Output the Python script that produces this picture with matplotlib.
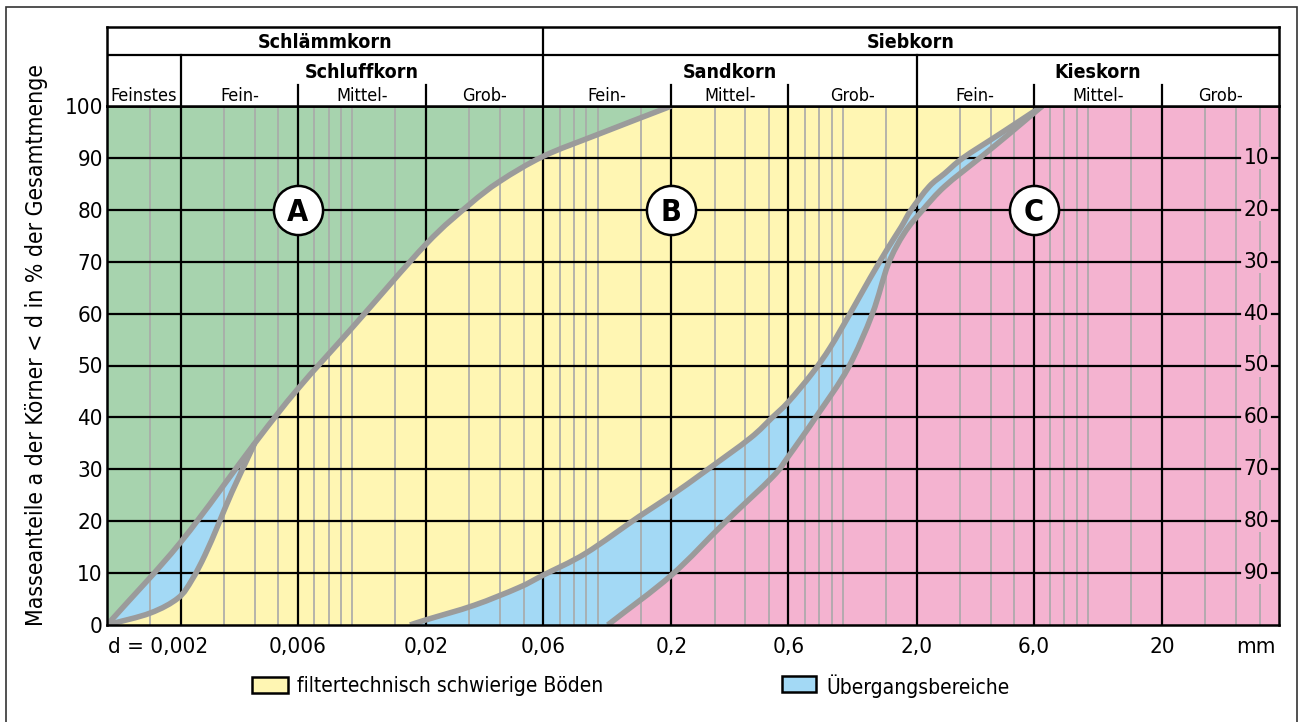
import numpy as np
import matplotlib
matplotlib.use("Agg")
import matplotlib.pyplot as plt
from matplotlib.patches import Rectangle, PathPatch
from matplotlib.path import Path
from matplotlib import font_manager as fm

# pick a narrow sans face when one is installed
_fonts = fm.fontManager.ttflist
_names = {f.name for f in _fonts}
if 'Liberation Sans Narrow' in _names:
    plt.rcParams['font.family'] = ['Liberation Sans Narrow', 'DejaVu Sans']
    FONT_NOTE = 'narrow'
elif any(f.name == 'DejaVu Sans' and 'condensed' in str(f.stretch) for f in _fonts):
    plt.rcParams['font.family'] = ['DejaVu Sans']
    plt.rcParams['font.stretch'] = 'condensed'
    FONT_NOTE = 'dejavu-condensed'
else:
    plt.rcParams['font.family'] = ['DejaVu Sans']
    FONT_NOTE = 'plain'

# ---- data -------------------------------------------------------------
# grain size d [mm] and mass fraction [%] of the boundary curves
# A: upper limit of the fine-grained soils
d_a = [0.001, 0.002, 0.004, 0.006, 0.01, 0.02, 0.03, 0.04, 0.06, 0.1, 0.2]
p_a = [0, 16, 35, 45.5, 57.3, 73.4, 81, 85.5, 90.3, 94.5, 100]

# lower edge of the transition lens near the origin (joins A at its last point)
d_a2 = [0.001, 0.0015, 0.00195, 0.00222, 0.00251, 0.00284, 0.00323, 0.004]
p_a2 = [0, 2.3, 5.2, 8.7, 13.5, 19.3, 25.6, 35]

# B: upper limit of the transition band towards the coarse soils
d_b = [0.0172, 0.02, 0.0314, 0.0477, 0.06, 0.0893, 0.1476, 0.2, 0.276, 0.419,
       0.516, 0.6, 0.75, 0.889, 1.07, 1.29, 1.53, 1.73, 1.9, 2.25, 2.6, 3.09, 4.36, 6.5]
p_b = [0, 1, 3.8, 7.2, 9.6, 13.8, 20.9, 25, 29.7, 36, 40, 43, 48.5, 53.5,
       60, 66.8, 72.7, 76.7, 80, 84.5, 87, 90, 94.6, 100]

# C: lower limit of the transition band
d_c = [0.110, 0.2, 0.326, 0.516, 0.6, 0.783, 1.05, 1.32, 1.53, 1.78, 2.12, 2.6,
       3.62, 4.73, 6.5]
p_c = [0, 9.6, 19.5, 28.5, 32.5, 40.3, 49.5, 60, 69.5, 75.5, 80, 84.5,
       90, 94.5, 100]

major_d = [0.002, 0.006, 0.02, 0.06, 0.2, 0.6, 2.0, 6.0, 20.0]
major_labels = ['0,002', '0,006', '0,02', '0,06', '0,2', '0,6', '2,0', '6,0', '20']
minor_mult = [1, 1.5, 3, 4, 5, 7, 8, 9]
pct_ticks = [0, 10, 20, 30, 40, 50, 60, 70, 80, 90, 100]
right_ticks = [10, 20, 30, 40, 50, 60, 70, 80, 90]

group_top = [('Schlämmkorn', 0.001, 0.06), ('Siebkorn', 0.06, 60.0)]
group_mid = [('Schluffkorn', 0.002, 0.06), ('Sandkorn', 0.06, 2.0), ('Kieskorn', 2.0, 60.0)]
group_sub = [('Feinstes', 0.001, 0.002),
             ('Fein-', 0.002, 0.006), ('Mittel-', 0.006, 0.02), ('Grob-', 0.02, 0.06),
             ('Fein-', 0.06, 0.2), ('Mittel-', 0.2, 0.6), ('Grob-', 0.6, 2.0),
             ('Fein-', 2.0, 6.0), ('Mittel-', 6.0, 20.0), ('Grob-', 20.0, 60.0)]
zones = [('A', 0.006, 80), ('B', 0.2, 80), ('C', 6.0, 80)]

# ---- colours ----------------------------------------------------------
GREEN = '#a7d3ae'
YELLOW = '#fff6b3'
BLUE = '#a3d9f5'
PINK = '#f4b3d0'
CURVE = '#9b9b9b'
MINOR = '#a9a9a9'

FS_NUM = 16 if FONT_NOTE != 'plain' else 14.5
FS_HEAD = 14 if FONT_NOTE != 'plain' else 12.5
FS_SUB = 13 if FONT_NOTE != 'plain' else 11.5
FS_TITLE = 16.5 if FONT_NOTE != 'plain' else 14.5
FS_LEG = 15 if FONT_NOTE != 'plain' else 13.5

W, H = 1304, 722
XMIN, XMAX = 0.001, 60.0


def bezier_parts(d, p):
    """Cubic Bezier vertices (smooth in log-d) through the given points."""
    u = np.log10(np.asarray(d, float))
    v = np.asarray(p, float)
    sv = 1 / 47.0  # one decade is drawn about as long as 47 %
    pts = np.column_stack([u, v * sv])
    n = len(pts)
    tang = np.zeros_like(pts)
    tang[0] = pts[1] - pts[0]
    tang[-1] = pts[-1] - pts[-2]
    for i in range(1, n - 1):
        tang[i] = (pts[i + 1] - pts[i - 1]) / 2
    verts = []
    for i in range(n - 1):
        c1 = pts[i] + tang[i] / 3
        c2 = pts[i + 1] - tang[i + 1] / 3
        verts += [c1, c2, pts[i + 1]]
    conv = lambda q: (10 ** q[0], q[1] / sv)
    return conv(pts[0]), [conv(q) for q in verts]


def curve_path(d, p):
    start, verts = bezier_parts(d, p)
    return Path([start] + verts, [Path.MOVETO] + [Path.CURVE4] * len(verts))


def region_above_path(parts_list):
    """Closed path: left/upper side of a chain of Bezier boundaries."""
    start = parts_list[0][0]
    v = [(XMIN, 0), start]
    c = [Path.MOVETO, Path.LINETO]
    for s, verts in parts_list:
        v += verts
        c += [Path.CURVE4] * len(verts)
    end = v[-1]
    v += [(end[0], 100), (XMIN, 100), (XMIN, 0)]
    c += [Path.LINETO, Path.LINETO, Path.CLOSEPOLY]
    return Path(v, c)


fig = plt.figure(figsize=(W / 100, H / 100), dpi=100)

L, R, T, B = 107, 1279, 106, 625
ax = fig.add_axes([L / W, 1 - B / H, (R - L) / W, (B - T) / H])
ax.set_xscale('log')
ax.set_xlim(XMIN, XMAX)
ax.set_ylim(0, 100)
ax.set_facecolor(PINK)

# filled regions, back to front
ax.add_patch(PathPatch(region_above_path([bezier_parts(d_c, p_c)]), fc=BLUE, lw=0, zorder=1))
ax.add_patch(PathPatch(region_above_path([bezier_parts(d_b, p_b)]), fc=YELLOW, lw=0, zorder=1))
i_join = d_a.index(d_a2[-1])
lens = [bezier_parts(d_a2, p_a2), bezier_parts(d_a[i_join:], p_a[i_join:])]
ax.add_patch(PathPatch(region_above_path(lens), fc=BLUE, lw=0, zorder=1))
ax.add_patch(PathPatch(region_above_path([bezier_parts(d_a, p_a)]), fc=GREEN, lw=0, zorder=1))

# vertical grid
for k in range(-3, 2):
    for m in minor_mult:
        v = m * 10.0 ** k
        if XMIN < v < XMAX:
            ax.axvline(v, color=MINOR, lw=1.2, zorder=2)
for v in major_d:
    ax.axvline(v, color='black', lw=1.6, zorder=3)

# horizontal grid with right-hand complementary scale
yt = ax.get_yaxis_transform()
for y in right_ticks:
    ax.plot([0, 0.967], [y, y], color='black', lw=1.6, transform=yt, zorder=3)
    ax.plot([0.994, 1.0], [y, y], color='black', lw=1.6, transform=yt, zorder=3)
    ax.text(0.9805, y, str(100 - y), transform=yt, ha='center', va='center',
            fontsize=FS_NUM, zorder=4,
            bbox=dict(boxstyle='square,pad=0.05', fc=PINK, ec='none'))

# boundary curves
for d, p in [(d_a, p_a), (d_a2, p_a2), (d_b, p_b), (d_c, p_c)]:
    ax.add_patch(PathPatch(curve_path(d, p), fill=False, ec=CURVE, lw=4,
                           capstyle='butt', joinstyle='round', zorder=5))

# zone markers
for lab, d, p in zones:
    ax.scatter([d], [p], s=1250, facecolor='white', edgecolor='black', linewidths=1.8, zorder=6)
    ax.text(d, p - 0.5, lab, ha='center', va='center', fontsize=22, fontweight='bold', zorder=7)

for s in ax.spines.values():
    s.set_linewidth(1.8)
    s.set_zorder(8)

ax.set_yticks(pct_ticks)
ax.set_yticklabels([str(v) for v in pct_ticks], fontsize=FS_NUM)
ax.tick_params(axis='y', length=0, pad=3)
ax.set_xticks([])
ax.set_xticks([], minor=True)

# x labels
xt = ax.get_xaxis_transform()
ax.text(XMIN * 1.01, -0.042, 'd = ' + major_labels[0], transform=xt, ha='left', va='center', fontsize=FS_NUM)
for v, lab in zip(major_d[1:], major_labels[1:]):
    ax.text(v, -0.042, lab, transform=xt, ha='center', va='center', fontsize=FS_NUM)
ax.text(0.9805, -0.042, 'mm', transform=ax.transAxes, ha='center', va='center', fontsize=FS_NUM)

# header table
HT = 27
hx = fig.add_axes([L / W, 1 - T / H, (R - L) / W, (T - HT) / H])
hx.set_xscale('log')
hx.set_xlim(XMIN, XMAX)
hx.set_ylim(0, 1)
hx.set_xticks([])
hx.set_xticks([], minor=True)
hx.set_yticks([])
for s in hx.spines.values():
    s.set_linewidth(1.8)
row1 = (T - 55) / (T - HT)
sub_top = (T - 85) / (T - HT)
hx.axhline(row1, color='black', lw=1.6)
hx.plot([0.06, 0.06], [0, 1], color='black', lw=1.6)
hx.plot([0.002, 0.002], [0, row1], color='black', lw=1.6)
hx.plot([2.0, 2.0], [0, row1], color='black', lw=1.6)
for v in [0.006, 0.02, 0.2, 0.6, 6.0, 20.0]:
    hx.plot([v, v], [0, sub_top], color='black', lw=1.6)


def gmean(a, b):
    return np.sqrt(a * b)


for lab, a, b in group_top:
    hx.text(gmean(a, b), (T - 42) / (T - HT), lab, ha='center', va='center', fontsize=FS_HEAD, fontweight='bold')
for lab, a, b in group_mid:
    hx.text(gmean(a, b), (T - 73) / (T - HT), lab, ha='center', va='center', fontsize=FS_HEAD, fontweight='bold')
for lab, a, b in group_sub:
    hx.text(gmean(a, b), (T - 96) / (T - HT), lab, ha='center', va='center', fontsize=FS_SUB)

# axis title
fig.text(37 / W, 1 - 345 / H, 'Masseanteile a der Körner < d in % der Gesamtmenge',
         rotation=90, ha='center', va='center', fontsize=FS_TITLE)

# legend
fig.add_artist(Rectangle((252 / W, 1 - 693 / H), 36 / W, 16 / H, transform=fig.transFigure,
                         fc=YELLOW, ec='black', lw=1.8))
fig.text(297 / W, 1 - 686 / H, 'filtertechnisch schwierige Böden', ha='left', va='center', fontsize=FS_LEG)
fig.add_artist(Rectangle((782 / W, 1 - 692 / H), 34 / W, 16 / H, transform=fig.transFigure,
                         fc=BLUE, ec='black', lw=1.8))
fig.text(826 / W, 1 - 686 / H, 'Übergangsbereiche', ha='left', va='center', fontsize=FS_LEG)

# outer frame
fig.add_artist(Rectangle((6 / W, -0.02), (1297 - 6) / W, 1 - 7 / H + 0.02, transform=fig.transFigure,
                         fill=False, ec='#333333', lw=1.2))

fig.savefig('out.png', dpi=100)
